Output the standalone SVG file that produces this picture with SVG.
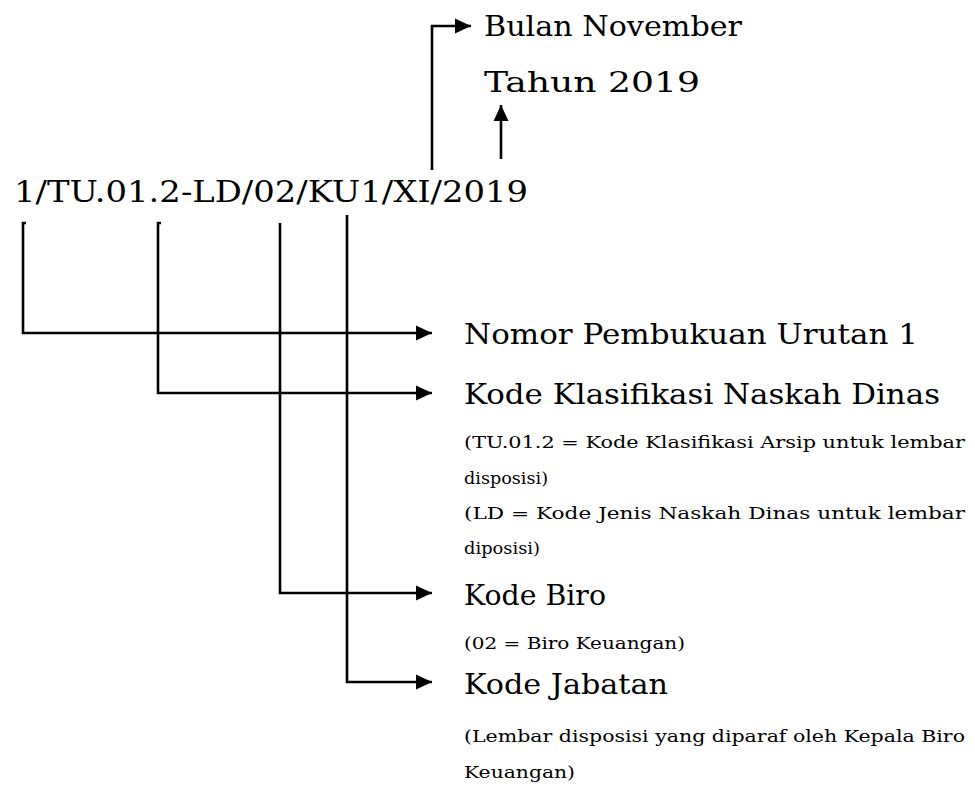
<svg xmlns="http://www.w3.org/2000/svg" width="975" height="790" viewBox="0 0 975 790">
<style>
  .t { font-family: "DejaVu Serif", "Liberation Serif", serif; fill: #000; }
  .big { font-size: 28.5px; }
  .code { font-size: 30.5px; }
  .small { font-size: 16.5px; }
  .ln { fill: none; stroke: #000; stroke-width: 2.6; stroke-linejoin: miter; stroke-linecap: butt; }
</style>
<defs>
  <marker id="ah" markerUnits="userSpaceOnUse" markerWidth="16" markerHeight="16" viewBox="0 0 16 16" refX="16" refY="8" orient="auto">
    <path d="M0,0.5 L16,8 L0,15.5 Z" fill="#000"/>
  </marker>
</defs>
<g id="code">
  <text class="t code" x="14" y="202" textLength="514" lengthAdjust="spacingAndGlyphs">1/TU.01.2-LD/02/KU1/XI/2019</text>
</g>
<g id="bulan">
  <text class="t big" x="484" y="36" textLength="258" lengthAdjust="spacingAndGlyphs">Bulan November</text>
</g>
<g id="tahun">
  <text class="t big" x="484" y="92" textLength="216" lengthAdjust="spacingAndGlyphs">Tahun 2019</text>
</g>
<g id="nomor">
  <text class="t big" x="464" y="344" textLength="454" lengthAdjust="spacingAndGlyphs">Nomor Pembukuan Urutan 1</text>
</g>
<g id="klasifikasi">
  <text class="t big" x="464" y="404" textLength="476" lengthAdjust="spacingAndGlyphs">Kode Klasifikasi Naskah Dinas</text>
  <text class="t small" x="464" y="448" textLength="501" lengthAdjust="spacingAndGlyphs">(TU.01.2 = Kode Klasifikasi Arsip untuk lembar</text>
  <text class="t small" x="464" y="484" textLength="84" lengthAdjust="spacingAndGlyphs">disposisi)</text>
  <text class="t small" x="464" y="519" textLength="501" lengthAdjust="spacingAndGlyphs">(LD = Kode Jenis Naskah Dinas untuk lembar</text>
  <text class="t small" x="464" y="554" textLength="76" lengthAdjust="spacingAndGlyphs">diposisi)</text>
</g>
<g id="biro">
  <text class="t big" x="464" y="605" textLength="142" lengthAdjust="spacingAndGlyphs">Kode Biro</text>
  <text class="t small" x="464" y="649" textLength="221" lengthAdjust="spacingAndGlyphs">(02 = Biro Keuangan)</text>
</g>
<g id="jabatan">
  <text class="t big" x="464" y="694" textLength="204" lengthAdjust="spacingAndGlyphs">Kode Jabatan</text>
  <text class="t small" x="464" y="742" textLength="501" lengthAdjust="spacingAndGlyphs">(Lembar disposisi yang diparaf oleh Kepala Biro</text>
  <text class="t small" x="464" y="778" textLength="111" lengthAdjust="spacingAndGlyphs">Keuangan)</text>
</g>
<g id="connectors">
  <path class="ln" d="M432,170 V26 H471" marker-end="url(#ah)"/>
  <path class="ln" d="M501,159 V105" marker-end="url(#ah)"/>
  <path class="ln" d="M26,223 H23 V333 H432" marker-end="url(#ah)"/>
  <path class="ln" d="M161,223 H158 V393 H432" marker-end="url(#ah)"/>
  <path class="ln" d="M280,223 V593 H432" marker-end="url(#ah)"/>
  <path class="ln" d="M347,215 V682 H432" marker-end="url(#ah)"/>
</g>
</svg>
